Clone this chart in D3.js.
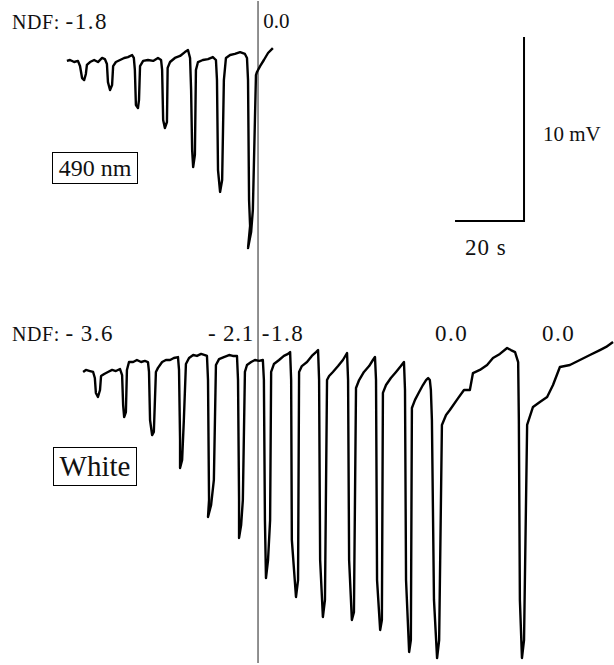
<!DOCTYPE html>
<html lang="en">
<head>
    <meta charset="UTF-8">
    <title>ERG responses, 490 nm and white flashes</title>
    <style>
        body, html {
            margin: 0;
            padding: 0;
            background: #fff;
        }
        #chart {
            width: 614px;
            height: 665px;
        }
        text {
            font-family: "Liberation Serif", "Times New Roman", serif;
            fill: #111;
        }
    </style>
    <script src="https://d3js.org/d3.v7.min.js"></script>
</head>
<body>
    <div id="chart"></div>
    <script>
        // trace samples: [time (s), potential (mV) relative to resting level]
        const trace490 = [
            [2.0, -0.05], [2.9, 0], [4.1, -0.11], [5.2, -0.05], [5.8, -0.33], [6.4, -0.98], [7.0, -1.09],
            [7.5, -0.76], [7.8, -0.27], [8.7, -0.11], [9.9, 0], [11.0, -0.11], [12.2, 0.11], [13.0, 0.05],
            [13.6, -0.22], [13.9, -1.20], [14.5, -1.63], [15.1, -1.36], [15.4, -0.33], [16.2, -0.11],
            [17.4, 0], [18.6, 0.11], [19.7, 0.16], [20.9, 0.27], [21.4, 0.11], [21.7, -0.54], [22.0, -2.45],
            [22.6, -2.61], [22.9, -2.17], [23.2, -0.33], [24.1, -0.05], [25.5, 0], [27.0, -0.05],
            [28.4, 0.11], [29.3, 0], [29.6, -0.54], [29.9, -3.26], [30.4, -3.70], [31.0, -3.37],
            [31.2, -0.43], [31.9, -0.11], [33.3, 0.11], [34.8, 0.22], [36.2, 0.43], [37.1, 0.54],
            [37.7, 0.11], [38.0, -1.63], [38.3, -4.89], [38.6, -5.82], [39.1, -5.16], [39.4, -0.54],
            [40.0, -0.11], [41.4, 0], [42.9, 0.05], [44.3, 0.16], [45.2, 0], [45.5, -1.09], [45.8, -5.98],
            [46.4, -7.17], [47.0, -6.52], [47.5, -1.09], [48.1, 0.11], [49.3, 0.27], [50.7, 0.33],
            [52.2, 0.43], [53.6, 0.33], [54.2, 0.11], [54.5, -1.09], [54.8, -7.61], [55.1, -9.02],
            [54.5, -10.22], [55.4, -9.35], [55.9, -8.15], [56.5, -3.26], [56.8, -0.82], [57.1, -0.65],
            [58.0, -0.33], [59.1, 0], [60.3, 0.38], [61.7, 0.65]
        ];

        const traceWhite = [
            [6.7, -0.65], [7.5, -0.54], [8.7, -0.60], [9.6, -0.65], [10.1, -0.98], [10.4, -1.79], [11.0, -2.01],
            [11.6, -1.63], [11.9, -0.87], [12.8, -0.76], [13.9, -0.65], [15.1, -0.54], [16.2, -0.60],
            [17.4, -0.49], [18.0, -0.82], [18.3, -2.45], [18.6, -3.10], [19.1, -2.83], [19.4, -0.54],
            [20.0, -0.11], [21.2, -0.11], [22.3, 0], [23.5, -0.11], [24.6, -0.05], [25.5, -0.11],
            [25.8, -0.65], [26.1, -3.26], [26.7, -4.08], [27.2, -3.91], [27.8, -0.65], [28.4, -0.43],
            [29.6, -0.11], [30.7, 0], [31.9, 0], [33.0, 0.11], [34.2, 0.16], [34.5, -0.54], [34.8, -4.35],
            [34.8, -5.87], [35.4, -5.43], [35.9, -3.26], [36.5, -0.22], [37.4, 0.11], [38.6, 0.27],
            [39.7, 0.22], [40.9, 0.33], [42.0, 0.27], [42.6, 0.22], [42.9, -1.09], [43.2, -7.61],
            [42.9, -8.53], [43.8, -7.88], [44.6, -6.52], [45.2, -0.27], [46.1, 0.05], [47.5, 0.16],
            [49.0, 0.27], [50.1, 0.22], [51.3, 0.22], [51.6, -1.09], [51.9, -7.61], [51.9, -9.67],
            [52.5, -8.97], [53.0, -7.61], [53.6, -0.65], [54.2, -0.27], [55.4, -0.11], [56.5, 0],
            [57.7, -0.05], [58.8, 0], [59.1, -1.09], [59.4, -8.70], [59.7, -11.85], [60.3, -10.87],
            [60.9, -8.70], [61.2, -0.65], [62.0, -0.22], [63.5, 0], [64.9, 0.22], [66.1, 0.33],
            [66.7, 0.43], [67.0, -1.09], [67.2, -9.78], [68.4, -12.88], [69.0, -11.96], [69.3, -0.65],
            [70.1, -0.33], [71.6, -0.11], [73.0, 0.22], [74.2, 0.43], [74.8, 0.54], [75.1, -1.09],
            [75.4, -10.87], [76.2, -13.97], [76.8, -13.04], [77.4, -1.09], [78.0, -0.87], [79.1, -0.65],
            [80.6, -0.33], [82.0, 0], [83.2, 0.38], [83.5, -1.09], [83.8, -10.87], [84.6, -14.13],
            [85.2, -13.70], [85.8, -1.52], [86.7, -1.09], [88.1, -0.65], [89.6, -0.33], [90.7, 0],
            [91.3, 0.16], [91.6, -1.09], [91.9, -11.96], [92.8, -14.67], [93.3, -14.13], [93.6, -1.79],
            [94.5, -1.36], [95.9, -0.98], [97.4, -0.65], [98.8, -0.33], [99.7, -0.11], [100.0, -1.63],
            [100.3, -11.96], [101.2, -15.87], [101.7, -15.22], [102.0, -2.61], [102.9, -2.17],
            [104.1, -1.74], [105.2, -1.36], [106.1, -1.09], [106.7, -0.98], [107.2, -1.09], [107.5, -1.63],
            [107.8, -3.26], [108.4, -13.04], [109.3, -16.20], [109.9, -15.22], [110.7, -3.53],
            [111.9, -2.99], [113.0, -2.72], [115.4, -2.07], [117.1, -1.63], [118.8, -1.63], [119.7, -0.71],
            [121.7, -0.54], [123.8, -0.27], [125.5, 0.11], [127.5, 0.33], [129.6, 0.65], [130.7, 0.54],
            [131.9, 0.43], [132.8, -0.11], [133.0, -3.26], [133.3, -13.04], [133.9, -16.20],
            [134.5, -15.22], [135.4, -3.53], [137.1, -2.55], [139.1, -2.28], [141.2, -2.01],
            [142.9, -1.36], [144.9, -0.38], [147.8, -0.27], [150.7, 0], [153.6, 0.27], [156.5, 0.54],
            [158.3, 0.71], [160.3, 0.98]
        ];

        // NDF labels over the flashes (time where label starts, s)
        const ndf490Text = ["0.0"];
        const ndf490Time = [58.9];
        const ndfWhiteText = ["- 2.1", "-1.8", "0.0", "0.0"];
        const ndfWhiteTime = [42.9, 58.5, 108.7, 139.7];

        const markerTime = 57.4;     // vertical reference line
        const barSeconds = 20;
        const barMillivolts = 10;

        const width = 614, height = 665;
        const svg = d3.select("#chart").append("svg")
            .attr("width", width)
            .attr("height", height);

        const x = d3.scaleLinear().domain([0, 160]).range([60, 612]);
        const yTop = d3.scaleLinear().domain([0, -10]).range([60, 244]);
        const yBot = d3.scaleLinear().domain([0, -10]).range([360, 544]);

        // vertical marker through both records
        svg.append("line")
            .attr("x1", x(markerTime)).attr("x2", x(markerTime))
            .attr("y1", 1).attr("y2", 663)
            .attr("stroke", "#222")
            .attr("stroke-width", 1);

        const lineTop = d3.line().x(d => x(d[0])).y(d => yTop(d[1]));
        const lineBot = d3.line().x(d => x(d[0])).y(d => yBot(d[1]));

        [[lineTop, trace490], [lineBot, traceWhite]].forEach(([gen, rec]) => {
            svg.append("path")
                .attr("d", gen(rec))
                .attr("fill", "none")
                .attr("stroke", "#000")
                .attr("stroke-width", 2.4)
                .attr("stroke-linejoin", "round");
        });

        // scale bar
        const barT = 134.5, barV = -8.75;
        svg.append("path")
            .attr("d", `M${x(barT - barSeconds)},${yTop(barV)}H${x(barT)}V${yTop(barV + barMillivolts)}`)
            .attr("fill", "none")
            .attr("stroke", "#000")
            .attr("stroke-width", 2);

        svg.append("text")
            .attr("x", x(barT) + 19).attr("y", 141)
            .style("font-size", "21px")
            .text("10 mV");
        svg.append("text")
            .attr("x", 465).attr("y", 255)
            .style("font-size", "23px")
            .style("letter-spacing", "1px")
            .text("20 s");

        // NDF labels
        function ndfPrefix(y, value) {
            const t = svg.append("text").attr("x", 12).attr("y", y);
            t.append("tspan").style("font-size", "20px").style("letter-spacing", "0.6px").text("NDF: ");
            t.append("tspan").style("font-size", "23px").style("letter-spacing", "1.5px").text(value);
        }
        ndfPrefix(29, "-1.8");
        ndfPrefix(341, "-\u20093.6");

        svg.selectAll(".lab490").data(ndf490Text).join("text")
            .attr("x", (d, i) => x(ndf490Time[i]))
            .attr("y", 28)
            .style("font-size", "21px")
            .text(d => d);

        svg.selectAll(".labWhite").data(ndfWhiteText).join("text")
            .attr("x", (d, i) => x(ndfWhiteTime[i]))
            .attr("y", 341)
            .style("font-size", "23px")
            .style("letter-spacing", (d, i) => i === 0 ? "0.8px" : "1.5px")
            .text(d => d);

        // boxed stimulus labels
        function boxLabel(bx, by, bw, bh, label, size) {
            svg.append("rect")
                .attr("x", bx).attr("y", by).attr("width", bw).attr("height", bh)
                .attr("fill", "#fff").attr("stroke", "#000").attr("stroke-width", 1);
            svg.append("text")
                .attr("x", bx + bw / 2).attr("y", by + bh / 2 + size * 0.34)
                .attr("text-anchor", "middle")
                .style("font-size", size + "px")
                .text(label);
        }
        boxLabel(52.5, 152.5, 85, 31, "490 nm", 24);
        boxLabel(53.5, 447.5, 83, 38, "White", 29);
    </script>
</body>
</html>
